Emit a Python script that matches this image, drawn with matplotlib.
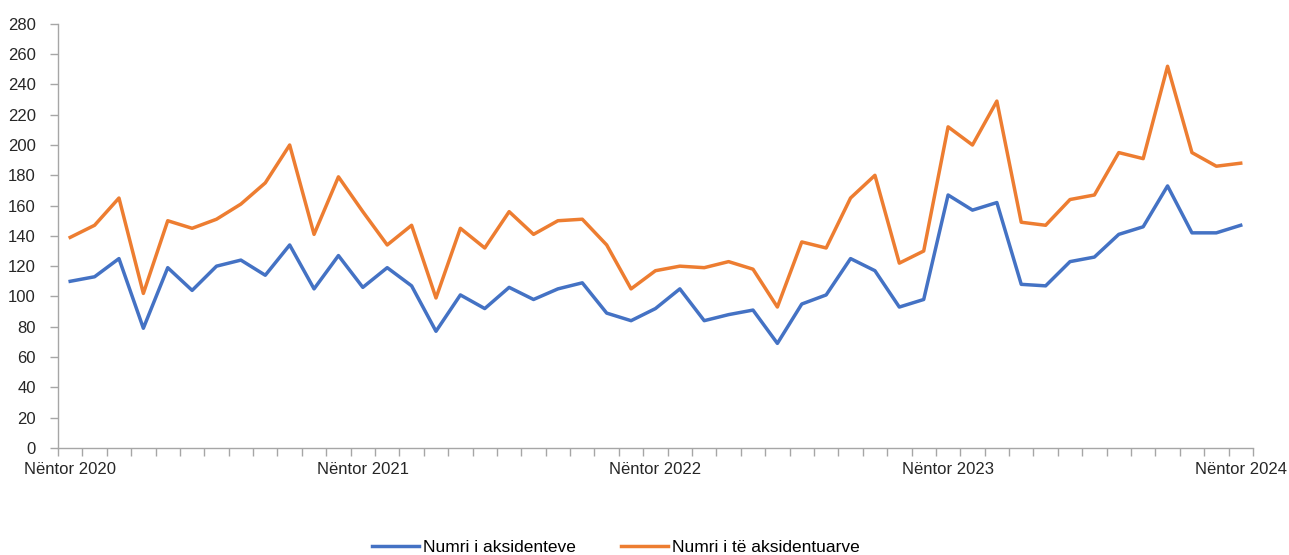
import numpy as np
import matplotlib
matplotlib.use("Agg")
import matplotlib.pyplot as plt
from matplotlib.ticker import FixedLocator

plt.rcParams['font.family'] = ['Liberation Sans', 'DejaVu Sans']

# monthly data, Nëntor 2020 .. Nëntor 2024
accidents = [110, 113, 125, 79, 119, 104, 120, 124, 114, 134, 105, 127,
             106, 119, 107, 77, 101, 92, 106, 98, 105, 109, 89, 84,
             92, 105, 84, 88, 91, 69, 95, 101, 125, 117, 93, 98,
             167, 157, 162, 108, 107, 123, 126, 141, 146, 173, 142, 142,
             147]
injured = [139, 147, 165, 102, 150, 145, 151, 161, 175, 200, 141, 179,
           156, 134, 147, 99, 145, 132, 156, 141, 150, 151, 134, 105,
           117, 120, 119, 123, 118, 93, 136, 132, 165, 180, 122, 130,
           212, 200, 229, 149, 147, 164, 167, 195, 191, 252, 195, 186,
           188]
label_pos = [0, 12, 24, 36, 48]
tick_labels = ['Nëntor 2020', 'Nëntor 2021', 'Nëntor 2022', 'Nëntor 2023', 'Nëntor 2024']

x = np.arange(len(accidents))

fig = plt.figure(figsize=(12.89, 5.55), dpi=100)
ax = fig.add_axes([0.045, 0.193, 0.927, 0.764])

ax.plot(x, accidents, color='#4472C4', lw=2.5, label='Numri i aksidenteve', solid_joinstyle='round')
ax.plot(x, injured, color='#ED7D31', lw=2.5, label='Numri i të aksidentuarve', solid_joinstyle='round')

ax.set_xlim(-0.5, len(x) - 0.5)
ax.set_ylim(0, 280)
ax.set_yticks(range(0, 281, 20))

ax.set_xticks(label_pos)
ax.set_xticklabels(tick_labels)
ax.xaxis.set_minor_locator(FixedLocator(np.arange(-0.5, len(x), 1)))
ax.tick_params(axis='x', which='major', length=0, pad=10, labelsize=12, colors='#262626')
ax.tick_params(axis='x', which='minor', length=6, color='#A6A6A6', width=1)
ax.tick_params(axis='y', length=6, color='#A6A6A6', width=1, pad=10, labelsize=12, labelcolor='#262626')

for s in ['top', 'right']:
    ax.spines[s].set_visible(False)
for s in ['left', 'bottom']:
    ax.spines[s].set_color('#A6A6A6')
    ax.spines[s].set_linewidth(1)

fig.legend(loc='center', bbox_to_anchor=(0.478, 0.014), ncol=2, frameon=False,
           fontsize=12.5, handlelength=2.7, handletextpad=0.25, columnspacing=2.6)

fig.savefig('out.png', dpi=100)
